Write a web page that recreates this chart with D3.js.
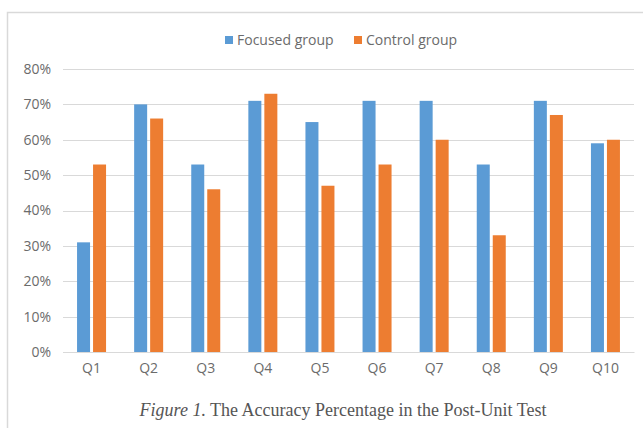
<!DOCTYPE html>
<html>
<head>
<meta charset="utf-8">
<script src="https://cdn.jsdelivr.net/npm/d3@7"></script>
<style>
  html, body { margin: 0; padding: 0; background: #fff; }
  svg { display: block; }
</style>
</head>
<body>
<svg id="chart" width="643" height="428"></svg>
<script>
const categories = ["Q1","Q2","Q3","Q4","Q5","Q6","Q7","Q8","Q9","Q10"];
const seriesNames = ["Focused group","Control group"];
const focusedValues = [0.31,0.70,0.53,0.71,0.65,0.71,0.71,0.53,0.71,0.59];
const controlValues = [0.53,0.66,0.46,0.73,0.47,0.53,0.60,0.33,0.67,0.60];
const yTicks = [0,0.1,0.2,0.3,0.4,0.5,0.6,0.7,0.8];
const colors = ["#5b9bd5","#ed7d31"];
const caption = {italic: "Figure 1.", rest: " The Accuracy Percentage in the Post-Unit Test"};

const svg = d3.select("#chart");
const font = "'Open Sans', sans-serif";
const margin = {left: 63, right: 9, top: 69, bottom: 76};
const W = 643, H = 428;

// frame
svg.append("path")
  .attr("d", `M7.5,${H} L7.5,12.5 L${W},12.5`)
  .attr("fill","none").attr("stroke","#d9d9d9").attr("stroke-width",1.5);

const x = d3.scaleBand().domain(categories).range([margin.left, W - margin.right]).paddingInner(0).paddingOuter(0);
const y = d3.scaleLinear().domain([0,0.8]).range([H - margin.bottom, margin.top]);

// gridlines
svg.append("g").selectAll("line").data(yTicks).join("line")
  .attr("x1", margin.left).attr("x2", W - margin.right)
  .attr("y1", d => Math.round(y(d)) + 0.5).attr("y2", d => Math.round(y(d)) + 0.5)
  .attr("stroke", "#d9d9d9").attr("stroke-width", 1);

// y axis labels
const yAxis = d3.axisLeft(y).tickValues(yTicks).tickFormat(d3.format(".0%")).tickSize(0).tickPadding(12);
const gy = svg.append("g").attr("transform", `translate(${margin.left},0)`).call(yAxis);
gy.select(".domain").remove();
gy.selectAll("text").attr("font-family", font).attr("font-size", 14).attr("fill", "#6b6b6b");

// bars
const barW = 13, gap = 3;
const sub = d3.scaleBand().domain([0,1]).range([0, 2*barW + gap]).paddingInner(gap/(barW+gap));
const data = categories.map((c,i) => ({c, vals:[focusedValues[i], controlValues[i]]}));
const groups = svg.append("g").selectAll("g").data(data).join("g")
  .attr("transform", d => `translate(${x(d.c) + x.bandwidth()/2 - (2*barW+gap)/2},0)`);
groups.selectAll("rect").data(d => d.vals.map((v,k)=>({v,k}))).join("rect")
  .attr("x", d => sub(d.k)).attr("width", sub.bandwidth())
  .attr("y", d => y(d.v)).attr("height", d => y(0) - y(d.v))
  .attr("fill", d => colors[d.k]);

// x axis
const xAxis = d3.axisBottom(x).tickSize(0).tickPadding(11);
const gx = svg.append("g").attr("transform", `translate(0,${y(0)})`).call(xAxis);
gx.select(".domain").attr("stroke","#d9d9d9").attr("stroke-width",1);
gx.selectAll("text").attr("font-family", font).attr("font-size", 14).attr("fill", "#6b6b6b");

// legend
const legend = svg.append("g");
const legItems = [{x:225, name:seriesNames[0], c:colors[0]},{x:354, name:seriesNames[1], c:colors[1]}];
legItems.forEach(it => {
  legend.append("rect").attr("x", it.x).attr("y", 36).attr("width", 8).attr("height", 8).attr("fill", it.c);
  legend.append("text").attr("x", it.x + 12).attr("y", 45)
    .attr("font-family", font).attr("font-size", 14).attr("fill", "#6b6b6b").text(it.name);
});

// caption
const cap = svg.append("text").attr("x", 343).attr("y", 416).attr("text-anchor","middle")
  .attr("font-family", "'Liberation Serif', 'Times New Roman', serif").attr("font-size", 18).attr("fill", "#555");
cap.append("tspan").attr("font-style","italic").text(caption.italic);
cap.append("tspan").text(caption.rest);
</script>
</body>
</html>
